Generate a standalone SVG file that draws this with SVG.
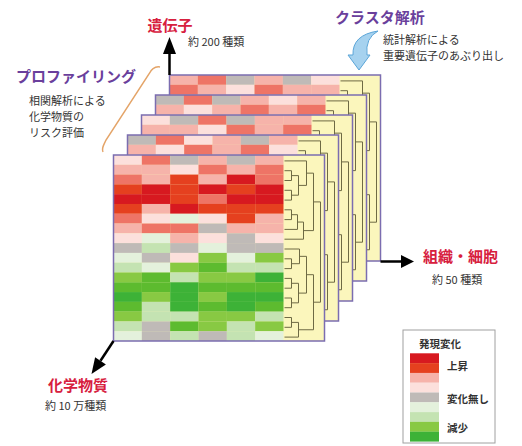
<svg xmlns="http://www.w3.org/2000/svg" xmlns:xlink="http://www.w3.org/1999/xlink" width="522" height="446" viewBox="0 0 522 446">
<style>
.r1{fill:#d71920}.r2{fill:#e5401f}.r3{fill:#ee7466}.r4{fill:#f6b3aa}.r5{fill:#fce0dc}
.g0{fill:#bfbab7}.g5{fill:#e4f1dc}.g4{fill:#c4e3b2}.g3{fill:#88c943}.g2{fill:#5dbb2f}.g1{fill:#3db237}
.frame{fill:none;stroke:#7b6db0;stroke-width:1.5}
.yel{fill:#fbf6bc}
.dendro{fill:none;stroke:#6e6a44;stroke-width:1}
.t-red{font-family:"Noto Sans CJK JP",sans-serif;font-weight:bold;font-size:15px;fill:#d7203e}
.t-pur{font-family:"Noto Sans CJK JP",sans-serif;font-weight:bold;font-size:15px;fill:#6a3f9c}
.t-sm{font-family:"Noto Sans CJK JP",sans-serif;font-size:11px;fill:#333}
.t-lg{font-family:"Noto Sans CJK JP",sans-serif;font-weight:bold;font-size:10.5px;fill:#333}
.arrow{stroke:#000;stroke-width:2.5;fill:none}
</style>
<defs>
<path id="dendro" class="dendro" d="M171,15.7H178V25.5H171 M171,35.3H178V45.1H171 M178,20.6H185V40.2H178 M171,5.9H193V30.4H185 M171,54.8H178V64.6H171 M178,59.7H184V74.4H171 M184,67.05H190V84.2H171 M193,18.15H200V75.6H190 M171,103.8H178V113.6H171 M171,94H186V108.7H178 M171,123.4H178V133.2H171 M171,143H178V152.7H171 M178,128.3H185V147.85H178 M186,101.35H193V138.1H185 M171,162.5H178V172.3H171 M178,167.4H185V182.1H171 M193,119.7H200V174.75H185 M200,46.9H207V147.2H200"/>
</defs>
<rect width="522" height="446" fill="#fff"/>

<g id="panel-4" transform="translate(169.5,75)">
<rect class="yel" x="0" y="0" width="211" height="186"/>
<rect class="r4" x="0" y="0" width="28.4" height="9.85"/><rect class="r3" x="28.33" y="0" width="28.4" height="9.85"/><rect class="g0" x="56.67" y="0" width="28.4" height="9.85"/><rect class="r4" x="85" y="0" width="28.4" height="9.85"/><rect class="g0" x="113.33" y="0" width="28.4" height="9.85"/><rect class="r5" x="141.67" y="0" width="28.33" height="9.85"/>
<rect class="r3" x="0" y="9.79" width="28.4" height="9.85"/><rect class="r4" x="28.33" y="9.79" width="28.4" height="9.85"/><rect class="r5" x="56.67" y="9.79" width="28.4" height="9.85"/><rect class="r3" x="85" y="9.79" width="28.4" height="9.85"/><rect class="r4" x="113.33" y="9.79" width="28.4" height="9.85"/><rect class="r4" x="141.67" y="9.79" width="28.33" height="9.85"/>
<use xlink:href="#dendro"/>
<rect class="frame" x="0" y="0" width="211" height="186"/>
</g>

<g id="panel-3" transform="translate(155.5,95)">
<rect class="yel" x="0" y="0" width="211" height="186"/>
<rect class="g0" x="0" y="0" width="28.4" height="9.85"/><rect class="r3" x="28.33" y="0" width="28.4" height="9.85"/><rect class="g0" x="56.67" y="0" width="28.4" height="9.85"/><rect class="r4" x="85" y="0" width="28.4" height="9.85"/><rect class="r5" x="113.33" y="0" width="28.4" height="9.85"/><rect class="r4" x="141.67" y="0" width="28.33" height="9.85"/>
<rect class="r4" x="0" y="9.79" width="28.4" height="9.85"/><rect class="r5" x="28.33" y="9.79" width="28.4" height="9.85"/><rect class="r4" x="56.67" y="9.79" width="28.4" height="9.85"/><rect class="r3" x="85" y="9.79" width="28.4" height="9.85"/><rect class="r4" x="113.33" y="9.79" width="28.4" height="9.85"/><rect class="r3" x="141.67" y="9.79" width="28.33" height="9.85"/>
<use xlink:href="#dendro"/>
<rect class="frame" x="0" y="0" width="211" height="186"/>
</g>

<g id="panel-2" transform="translate(141.5,115)">
<rect class="yel" x="0" y="0" width="211" height="186"/>
<rect class="r5" x="0" y="0" width="28.4" height="9.85"/><rect class="g0" x="28.33" y="0" width="28.4" height="9.85"/><rect class="r3" x="56.67" y="0" width="28.4" height="9.85"/><rect class="g0" x="85" y="0" width="28.4" height="9.85"/><rect class="r4" x="113.33" y="0" width="28.4" height="9.85"/><rect class="r4" x="141.67" y="0" width="28.33" height="9.85"/>
<rect class="r4" x="0" y="9.79" width="28.4" height="9.85"/><rect class="r4" x="28.33" y="9.79" width="28.4" height="9.85"/><rect class="r5" x="56.67" y="9.79" width="28.4" height="9.85"/><rect class="r3" x="85" y="9.79" width="28.4" height="9.85"/><rect class="r4" x="113.33" y="9.79" width="28.4" height="9.85"/><rect class="r3" x="141.67" y="9.79" width="28.33" height="9.85"/>
<use xlink:href="#dendro"/>
<rect class="frame" x="0" y="0" width="211" height="186"/>
</g>

<g id="panel-1" transform="translate(127.5,135)">
<rect class="yel" x="0" y="0" width="211" height="186"/>
<rect class="g0" x="0" y="0" width="28.4" height="9.85"/><rect class="r3" x="28.33" y="0" width="28.4" height="9.85"/><rect class="r5" x="56.67" y="0" width="28.4" height="9.85"/><rect class="r4" x="85" y="0" width="28.4" height="9.85"/><rect class="g0" x="113.33" y="0" width="28.4" height="9.85"/><rect class="r4" x="141.67" y="0" width="28.33" height="9.85"/>
<rect class="r4" x="0" y="9.79" width="28.4" height="9.85"/><rect class="r5" x="28.33" y="9.79" width="28.4" height="9.85"/><rect class="r3" x="56.67" y="9.79" width="28.4" height="9.85"/><rect class="r4" x="85" y="9.79" width="28.4" height="9.85"/><rect class="r3" x="113.33" y="9.79" width="28.4" height="9.85"/><rect class="r5" x="141.67" y="9.79" width="28.33" height="9.85"/>
<use xlink:href="#dendro"/>
<rect class="frame" x="0" y="0" width="211" height="186"/>
</g>

<g id="panel-front" transform="translate(113.5,155)">
<rect class="yel" x="0" y="0" width="211" height="186"/>
<g id="front-cells">
<rect class="r5" x="0" y="0" width="28.4" height="9.85"/><rect class="r3" x="28.33" y="0" width="28.4" height="9.85"/><rect class="g0" x="56.67" y="0" width="28.4" height="9.85"/><rect class="r4" x="85" y="0" width="28.4" height="9.85"/><rect class="g0" x="113.33" y="0" width="28.4" height="9.85"/><rect class="r4" x="141.67" y="0" width="28.33" height="9.85"/>
<rect class="r4" x="0" y="9.79" width="28.4" height="9.85"/><rect class="r4" x="28.33" y="9.79" width="28.4" height="9.85"/><rect class="r5" x="56.67" y="9.79" width="28.4" height="9.85"/><rect class="r3" x="85" y="9.79" width="28.4" height="9.85"/><rect class="r4" x="113.33" y="9.79" width="28.4" height="9.85"/><rect class="r3" x="141.67" y="9.79" width="28.33" height="9.85"/>
<rect class="r3" x="0" y="19.58" width="28.4" height="9.85"/><rect class="r4" x="28.33" y="19.58" width="28.4" height="9.85"/><rect class="r2" x="56.67" y="19.58" width="28.4" height="9.85"/><rect class="r4" x="85" y="19.58" width="28.4" height="9.85"/><rect class="r1" x="113.33" y="19.58" width="28.4" height="9.85"/><rect class="r3" x="141.67" y="19.58" width="28.33" height="9.85"/>
<rect class="r2" x="0" y="29.37" width="28.4" height="9.85"/><rect class="r1" x="28.33" y="29.37" width="28.4" height="9.85"/><rect class="r2" x="56.67" y="29.37" width="28.4" height="9.85"/><rect class="r1" x="85" y="29.37" width="28.4" height="9.85"/><rect class="r2" x="113.33" y="29.37" width="28.4" height="9.85"/><rect class="r1" x="141.67" y="29.37" width="28.33" height="9.85"/>
<rect class="r1" x="0" y="39.16" width="28.4" height="9.85"/><rect class="r1" x="28.33" y="39.16" width="28.4" height="9.85"/><rect class="r2" x="56.67" y="39.16" width="28.4" height="9.85"/><rect class="r3" x="85" y="39.16" width="28.4" height="9.85"/><rect class="r1" x="113.33" y="39.16" width="28.4" height="9.85"/><rect class="r1" x="141.67" y="39.16" width="28.33" height="9.85"/>
<rect class="r2" x="0" y="48.95" width="28.4" height="9.85"/><rect class="r4" x="28.33" y="48.95" width="28.4" height="9.85"/><rect class="r1" x="56.67" y="48.95" width="28.4" height="9.85"/><rect class="r2" x="85" y="48.95" width="28.4" height="9.85"/><rect class="r2" x="113.33" y="48.95" width="28.4" height="9.85"/><rect class="r2" x="141.67" y="48.95" width="28.33" height="9.85"/>
<rect class="r3" x="0" y="58.74" width="28.4" height="9.85"/><rect class="r5" x="28.33" y="58.74" width="28.4" height="9.85"/><rect class="g5" x="56.67" y="58.74" width="28.4" height="9.85"/><rect class="r5" x="85" y="58.74" width="28.4" height="9.85"/><rect class="r2" x="113.33" y="58.74" width="28.4" height="9.85"/><rect class="r4" x="141.67" y="58.74" width="28.33" height="9.85"/>
<rect class="r4" x="0" y="68.53" width="28.4" height="9.85"/><rect class="r3" x="28.33" y="68.53" width="28.4" height="9.85"/><rect class="r3" x="56.67" y="68.53" width="28.4" height="9.85"/><rect class="g0" x="85" y="68.53" width="28.4" height="9.85"/><rect class="r4" x="113.33" y="68.53" width="28.4" height="9.85"/><rect class="r4" x="141.67" y="68.53" width="28.33" height="9.85"/>
<rect class="r5" x="0" y="78.32" width="28.4" height="9.85"/><rect class="g5" x="28.33" y="78.32" width="28.4" height="9.85"/><rect class="r4" x="56.67" y="78.32" width="28.4" height="9.85"/><rect class="r5" x="85" y="78.32" width="28.4" height="9.85"/><rect class="g0" x="113.33" y="78.32" width="28.4" height="9.85"/><rect class="r5" x="141.67" y="78.32" width="28.33" height="9.85"/>
<rect class="g0" x="0" y="88.11" width="28.4" height="9.85"/><rect class="g4" x="28.33" y="88.11" width="28.4" height="9.85"/><rect class="g0" x="56.67" y="88.11" width="28.4" height="9.85"/><rect class="g5" x="85" y="88.11" width="28.4" height="9.85"/><rect class="g0" x="113.33" y="88.11" width="28.4" height="9.85"/><rect class="g0" x="141.67" y="88.11" width="28.33" height="9.85"/>
<rect class="g5" x="0" y="97.9" width="28.4" height="9.85"/><rect class="g0" x="28.33" y="97.9" width="28.4" height="9.85"/><rect class="r5" x="56.67" y="97.9" width="28.4" height="9.85"/><rect class="g3" x="85" y="97.9" width="28.4" height="9.85"/><rect class="g5" x="113.33" y="97.9" width="28.4" height="9.85"/><rect class="g3" x="141.67" y="97.9" width="28.33" height="9.85"/>
<rect class="g4" x="0" y="107.69" width="28.4" height="9.85"/><rect class="g5" x="28.33" y="107.69" width="28.4" height="9.85"/><rect class="g3" x="56.67" y="107.69" width="28.4" height="9.85"/><rect class="g2" x="85" y="107.69" width="28.4" height="9.85"/><rect class="g4" x="113.33" y="107.69" width="28.4" height="9.85"/><rect class="g4" x="141.67" y="107.69" width="28.33" height="9.85"/>
<rect class="g3" x="0" y="117.48" width="28.4" height="9.85"/><rect class="g2" x="28.33" y="117.48" width="28.4" height="9.85"/><rect class="g4" x="56.67" y="117.48" width="28.4" height="9.85"/><rect class="g3" x="85" y="117.48" width="28.4" height="9.85"/><rect class="g3" x="113.33" y="117.48" width="28.4" height="9.85"/><rect class="g1" x="141.67" y="117.48" width="28.33" height="9.85"/>
<rect class="g2" x="0" y="127.27" width="28.4" height="9.85"/><rect class="g2" x="28.33" y="127.27" width="28.4" height="9.85"/><rect class="g1" x="56.67" y="127.27" width="28.4" height="9.85"/><rect class="g2" x="85" y="127.27" width="28.4" height="9.85"/><rect class="g2" x="113.33" y="127.27" width="28.4" height="9.85"/><rect class="g2" x="141.67" y="127.27" width="28.33" height="9.85"/>
<rect class="g1" x="0" y="137.06" width="28.4" height="9.85"/><rect class="g3" x="28.33" y="137.06" width="28.4" height="9.85"/><rect class="g1" x="56.67" y="137.06" width="28.4" height="9.85"/><rect class="g3" x="85" y="137.06" width="28.4" height="9.85"/><rect class="g1" x="113.33" y="137.06" width="28.4" height="9.85"/><rect class="g1" x="141.67" y="137.06" width="28.33" height="9.85"/>
<rect class="g2" x="0" y="146.85" width="28.4" height="9.85"/><rect class="g4" x="28.33" y="146.85" width="28.4" height="9.85"/><rect class="g1" x="56.67" y="146.85" width="28.4" height="9.85"/><rect class="g2" x="85" y="146.85" width="28.4" height="9.85"/><rect class="g1" x="113.33" y="146.85" width="28.4" height="9.85"/><rect class="g2" x="141.67" y="146.85" width="28.33" height="9.85"/>
<rect class="g3" x="0" y="156.64" width="28.4" height="9.85"/><rect class="g4" x="28.33" y="156.64" width="28.4" height="9.85"/><rect class="g4" x="56.67" y="156.64" width="28.4" height="9.85"/><rect class="g3" x="85" y="156.64" width="28.4" height="9.85"/><rect class="g3" x="113.33" y="156.64" width="28.4" height="9.85"/><rect class="g4" x="141.67" y="156.64" width="28.33" height="9.85"/>
<rect class="g4" x="0" y="166.43" width="28.4" height="9.85"/><rect class="g0" x="28.33" y="166.43" width="28.4" height="9.85"/><rect class="g2" x="56.67" y="166.43" width="28.4" height="9.85"/><rect class="g3" x="85" y="166.43" width="28.4" height="9.85"/><rect class="g4" x="113.33" y="166.43" width="28.4" height="9.85"/><rect class="g3" x="141.67" y="166.43" width="28.33" height="9.85"/>
<rect class="g5" x="0" y="176.22" width="28.4" height="9.78"/><rect class="g0" x="28.33" y="176.22" width="28.4" height="9.78"/><rect class="g4" x="56.67" y="176.22" width="28.4" height="9.78"/><rect class="g0" x="85" y="176.22" width="28.4" height="9.78"/><rect class="g4" x="113.33" y="176.22" width="28.4" height="9.78"/><rect class="g5" x="141.67" y="176.22" width="28.33" height="9.78"/>
</g>
<use xlink:href="#dendro"/>
<rect class="frame" x="0" y="0" width="211" height="186"/>
</g>

<g id="connectors">
<line class="arrow" x1="169.5" y1="75" x2="169.5" y2="52"/>
<polygon points="163,54 176,54 169.5,37" fill="#000"/>
<line class="arrow" x1="380.5" y1="261.5" x2="403" y2="261.5"/>
<polygon points="401,255 401,268 414,261.5" fill="#000"/>
<line class="arrow" x1="113.5" y1="341" x2="100.5" y2="360.8"/>
<polygon points="105.9,364.5 95.1,357.2 91.5,374" fill="#000"/>
<path d="M160,67 C154,66 151,70 149,74 L106,140 C104,145 101,148 103,152" fill="none" stroke="#e4a468" stroke-width="1.5"/>
<path d="M378,31 Q365,38 367,55 L370,55 L359,70 L348,55 L353,55 Q352,35 378,31 Z" fill="#a6d2ef" stroke="#5aa5d8" stroke-width="1"/>
</g>

<g id="label-gene">
<text class="t-red" x="170" y="31" text-anchor="middle">遺伝子</text>
<text class="t-sm" x="188" y="46">約 200 種類</text>
</g>
<g id="label-profiling">
<text class="t-pur" x="16" y="82">プロファイリング</text>
<text class="t-sm" x="29" y="105">相関解析による</text>
<text class="t-sm" x="29" y="121">化学物質の</text>
<text class="t-sm" x="29" y="137">リスク評価</text>
</g>
<g id="label-cluster">
<text class="t-pur" x="335" y="23">クラスタ解析</text>
<text class="t-sm" x="383" y="44">統計解析による</text>
<text class="t-sm" x="383" y="60">重要遺伝子のあぶり出し</text>
</g>
<g id="label-tissue">
<text class="t-red" x="423" y="262">組織・細胞</text>
<text class="t-sm" x="432" y="284">約 50 種類</text>
</g>
<g id="label-chem">
<text class="t-red" x="48" y="391">化学物質</text>
<text class="t-sm" x="45" y="410">約 10 万種類</text>
</g>

<g id="legend">
<rect x="403" y="330" width="92" height="113" fill="#fff" stroke="#a0a0a0" stroke-width="1"/>
<text class="t-lg" x="419" y="348">発現変化</text>
<rect class="r1" x="410" y="353.3" width="29" height="9.9"/>
<rect class="r2" x="410" y="363.1" width="29" height="9.9"/>
<rect class="r4" x="410" y="372.9" width="29" height="9.9"/>
<rect class="r5" x="410" y="382.7" width="29" height="9.9"/>
<rect class="g0" x="410" y="392.5" width="29" height="9.9"/>
<rect class="g5" x="410" y="402.3" width="29" height="9.9"/>
<rect class="g4" x="410" y="412.1" width="29" height="9.9"/>
<rect class="g3" x="410" y="421.9" width="29" height="9.9"/>
<rect class="g1" x="410" y="431.7" width="29" height="9.9"/>
<text class="t-lg" x="447" y="370">上昇</text>
<text class="t-lg" x="447" y="403">変化無し</text>
<text class="t-lg" x="447" y="432">減少</text>
</g>
</svg>
